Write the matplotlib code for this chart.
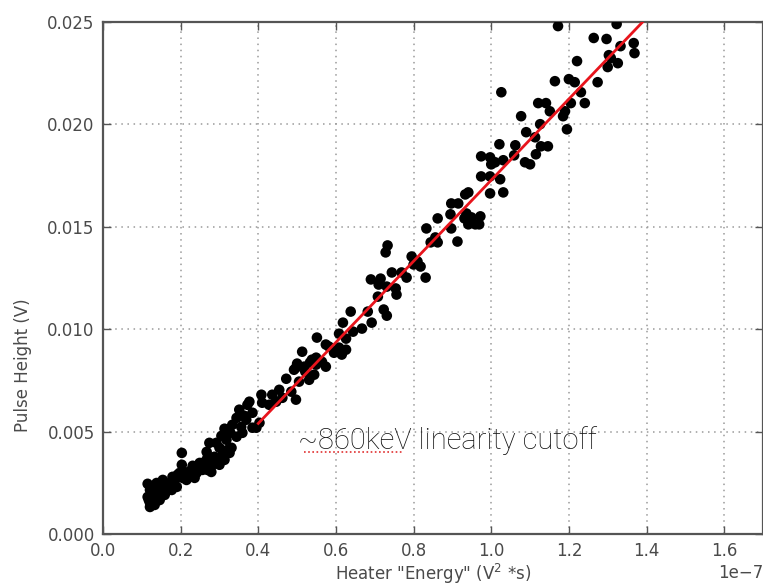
import matplotlib
matplotlib.use("Agg")
import matplotlib.pyplot as plt
import numpy as np

# Heater energy (units of 1e-7 V^2*s) and measured pulse height (V)
heater_energy = [
    1.172, 1.323, 1.264, 1.297, 1.367, 1.333, 1.369, 1.303, 1.308, 1.221,
    1.326, 1.300, 1.164, 1.200, 1.215, 1.274, 1.026, 1.231, 1.121, 1.141,
    1.205, 1.241, 1.151, 1.190, 1.185, 1.077, 1.126, 1.090, 1.113, 1.195,
    1.021, 1.062, 1.146, 1.128, 1.115, 0.974, 0.997, 1.031, 1.059, 1.010,
    1.000, 1.087, 1.100, 0.974, 0.997, 1.023, 0.941, 0.997, 1.031, 0.933,
    0.897, 0.915, 0.895, 0.936, 0.931, 0.949, 0.972, 0.941, 0.959, 0.969,
    0.862, 0.897, 0.833, 0.913, 0.844, 0.862, 0.856, 0.733, 0.728, 0.795,
    0.810, 0.818, 0.800, 0.744, 0.769, 0.782, 0.831, 0.690, 0.715, 0.710,
    0.731, 0.754, 0.756, 0.708, 0.682, 0.723, 0.731, 0.638, 0.692, 0.618,
    0.667, 0.644, 0.608, 0.551, 0.626, 0.582, 0.608, 0.626, 0.513, 0.595,
    0.615, 0.538, 0.564, 0.497, 0.518, 0.574, 0.549, 0.574, 0.549, 0.533,
    0.500, 0.492, 0.521, 0.544, 0.531, 0.472, 0.505, 0.454, 0.485, 0.462,
    0.497, 0.436, 0.408, 0.377, 0.410, 0.428, 0.446, 0.351, 0.385, 0.364,
    0.344, 0.369, 0.403, 0.333, 0.356, 0.385, 0.313, 0.328, 0.305, 0.344,
    0.318, 0.292, 0.274, 0.300, 0.267, 0.331, 0.121, 0.115, 0.126, 0.138,
    0.154, 0.164, 0.146, 0.179, 0.197, 0.203, 0.203, 0.215, 0.228, 0.241,
    0.249, 0.269, 0.269, 0.282, 0.295, 0.326, 0.359, 0.372, 0.395, 0.121,
    0.126, 0.133, 0.128, 0.141, 0.151, 0.159, 0.159, 0.172, 0.177, 0.185,
    0.190, 0.192, 0.205, 0.210, 0.223, 0.231, 0.236, 0.244, 0.256, 0.262,
    0.274, 0.279, 0.287, 0.300, 0.308, 0.313, 0.321, 0.115, 0.121, 0.118,
    0.136, 0.146,
]
pulse_height = [
    0.02480, 0.02490, 0.02422, 0.02417, 0.02397, 0.02382, 0.02348, 0.02338, 0.02324, 0.02309,
    0.02299, 0.02280, 0.02211, 0.02221, 0.02206, 0.02206, 0.02157, 0.02157, 0.02104, 0.02104,
    0.02104, 0.02104, 0.02064, 0.02064, 0.02040, 0.02040, 0.02001, 0.01962, 0.01937, 0.01976,
    0.01903, 0.01898, 0.01893, 0.01893, 0.01854, 0.01844, 0.01839, 0.01825, 0.01849, 0.01815,
    0.01805, 0.01815, 0.01805, 0.01746, 0.01746, 0.01732, 0.01668, 0.01663, 0.01668, 0.01658,
    0.01614, 0.01614, 0.01561, 0.01565, 0.01541, 0.01546, 0.01551, 0.01512, 0.01512, 0.01512,
    0.01541, 0.01492, 0.01492, 0.01428, 0.01424, 0.01424, 0.01448, 0.01409, 0.01375, 0.01355,
    0.01331, 0.01306, 0.01316, 0.01277, 0.01277, 0.01252, 0.01252, 0.01243, 0.01247, 0.01218,
    0.01208, 0.01199, 0.01169, 0.01159, 0.01086, 0.01096, 0.01066, 0.01086, 0.01032, 0.01032,
    0.01003, 0.00988, 0.00978, 0.00959, 0.00954, 0.00915, 0.00910, 0.00900, 0.00890, 0.00885,
    0.00876, 0.00851, 0.00841, 0.00812, 0.00817, 0.00817, 0.00827, 0.00925, 0.00861, 0.00837,
    0.00832, 0.00802, 0.00793, 0.00778, 0.00753, 0.00758, 0.00744, 0.00704, 0.00695, 0.00665,
    0.00656, 0.00680, 0.00680, 0.00646, 0.00641, 0.00631, 0.00646, 0.00607, 0.00592, 0.00577,
    0.00567, 0.00558, 0.00543, 0.00533, 0.00523, 0.00519, 0.00514, 0.00494, 0.00479, 0.00475,
    0.00460, 0.00445, 0.00445, 0.00421, 0.00401, 0.00421, 0.00132, 0.00181, 0.00230, 0.00249,
    0.00264, 0.00215, 0.00166, 0.00279, 0.00298, 0.00396, 0.00338, 0.00264, 0.00313, 0.00298,
    0.00347, 0.00372, 0.00313, 0.00338, 0.00362, 0.00396, 0.00494, 0.00631, 0.00519, 0.00152,
    0.00191, 0.00142, 0.00215, 0.00181, 0.00230, 0.00240, 0.00191, 0.00249, 0.00215, 0.00264,
    0.00230, 0.00289, 0.00274, 0.00303, 0.00284, 0.00333, 0.00274, 0.00323, 0.00313, 0.00352,
    0.00362, 0.00303, 0.00377, 0.00338, 0.00386, 0.00362, 0.00411, 0.00245, 0.00215, 0.00166,
    0.00210, 0.00200,
]

# Linear fit above the cutoff (endpoints of the fitted segment)
fit_energy = [0.40, 1.40]
fit_height = [0.00540, 0.02520]

EXP = 1e-7
x = np.array(heater_energy) * EXP
y = np.array(pulse_height)

fig = plt.figure(figsize=(7.63, 5.87), dpi=100)
ax = fig.add_axes([103 / 763, 53 / 587, 660 / 763, 512 / 587])

text_col = "#4a4a4a"
ax.scatter(x, y, s=58, color="black", edgecolors="none", zorder=3)
ax.plot(np.array(fit_energy) * EXP, fit_height, color="#e8141c", lw=2.0, zorder=4)

ax.set_xlim(0, 1.7e-7)
ax.set_ylim(0, 0.025)
ax.set_xticks(np.arange(0, 1.61, 0.2) * EXP)
ax.set_yticks([0.0, 0.005, 0.010, 0.015, 0.020, 0.025])
ax.yaxis.set_major_formatter(matplotlib.ticker.FormatStrFormatter("%.3f"))

ax.grid(True, linestyle=(0, (1, 3)), color="#9a9a9a", lw=1.1)
ax.set_axisbelow(True)
ax.tick_params(direction="in", top=True, right=True, length=6, width=1,
               colors="#555555", labelsize=12, labelcolor=text_col, pad=6)
for sp in ax.spines.values():
    sp.set_color("#555555")
    sp.set_linewidth(1.6)

offset = ax.xaxis.get_offset_text()
offset.set_fontsize(12)
offset.set_color(text_col)

ax.set_xlabel('Heater "Energy" (V$^2$ *s)', fontsize=12, color=text_col, labelpad=1)
ax.set_ylabel("Pulse Height (V)", fontsize=12, color=text_col)
ax.yaxis.set_label_coords(-0.108, 0.33)

ax.text(0.296, 0.183, "~860keV linearity cutoff", transform=ax.transAxes,
        fontsize=21, family=["Roboto", "DejaVu Sans"], weight="light",
        color="#111111", ha="left", va="center")
# dotted spell-check style underline beneath "860keV"
ax.plot([0.305, 0.455], [0.160, 0.160], transform=ax.transAxes, color="#e03030",
        lw=1.2, linestyle=(0, (1, 1.5)), clip_on=False, zorder=5)

fig.savefig("out.png", dpi=100)
